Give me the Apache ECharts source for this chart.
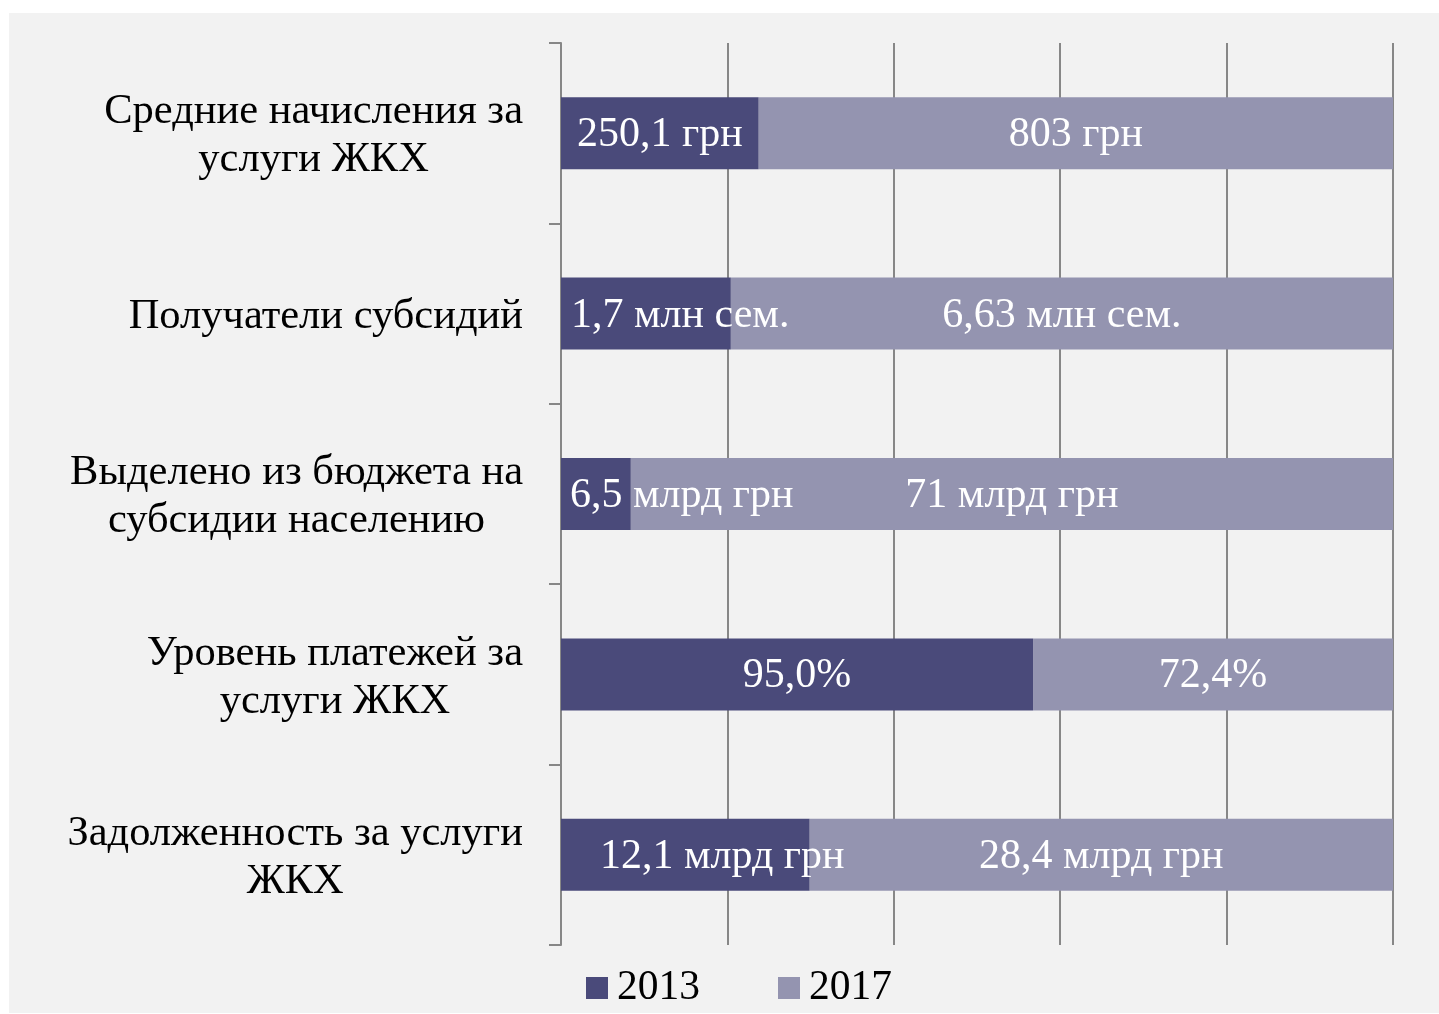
<!DOCTYPE html>
<html>
<head>
<meta charset="utf-8">
<script src="https://cdn.jsdelivr.net/npm/echarts@6/dist/echarts.min.js"></script>
<style>
    html, body { margin: 0; padding: 0; background: #ffffff; }
    #panel { position: absolute; left: 9px; top: 13px; width: 1430px; height: 1000px; background: #f2f2f2; }
    #main { width: 1430px; height: 1000px; }
</style>
</head>
<body>
<div id="panel"><div id="main"></div></div>
<script>
// категории (сверху вниз)
var categories = [
    'Средние начисления за\nуслуги ЖКХ',
    'Получатели субсидий',
    'Выделено из бюджета на\nсубсидии населению',
    'Уровень платежей за\nуслуги ЖКХ',
    'Задолженность за услуги\nЖКХ'
];
var years = ['2013', '2017'];
var values2013 = [250.1, 1.7, 6.5, 95.0, 12.1];
var values2017 = [803, 6.63, 71, 72.4, 28.4];
var labels2013 = ['250,1 грн', '1,7 млн сем.', '6,5 млрд грн', '95,0%', '12,1 млрд грн'];
var labels2017 = ['803 грн', '6,63 млн сем.', '71 млрд грн', '72,4%', '28,4 млрд грн'];
var xTicks = [0, 20, 40, 60, 80, 100];

var serif = '"Liberation Serif", "DejaVu Serif", serif';
var darkColor = '#4a4a7a';
var lightColor = '#9494b0';

// 100% stacked: доля каждого года в сумме
function share(a, b) {
    var out = [];
    for (var i = 0; i < a.length; i++) {
        out.push(a[i] / (a[i] + b[i]) * 100);
    }
    return out;
}
var share2013 = share(values2013, values2017);
var share2017 = share(values2017, values2013);

// подписи 2013, которые в Excel сдвинуты от центра
var leftLabelDist = {1: 10, 2: 9, 4: 39};

function buildData(shares, labels, leftShift) {
    var data = [];
    for (var i = 0; i < shares.length; i++) {
        var item = {value: shares[i], text: labels[i]};
        if (leftShift && leftShift[i] !== undefined) {
            item.label = {position: 'insideLeft', distance: leftShift[i]};
        }
        data.push(item);
    }
    return data;
}

var chart = echarts.init(document.getElementById('main'));

var barLabel = {
    show: true,
    position: 'inside',
    color: '#fff',
    fontFamily: serif,
    fontSize: 42,
    offset: [0, 2],
    formatter: function (p) { return p.data.text; }
};

var option = {
    backgroundColor: 'transparent',
    animation: false,
    grid: {left: 552, right: 46, top: 30, bottom: 68, containLabel: false},
    legend: {
        data: years,
        left: 572,
        top: 949,
        icon: 'rect',
        itemWidth: 22,
        itemHeight: 22,
        itemGap: 78,
        textStyle: {fontFamily: serif, fontSize: 41.5, color: '#000', padding: [0, 0, 0, 4]}
    },
    xAxis: {
        type: 'value',
        min: xTicks[0],
        max: xTicks[xTicks.length - 1],
        interval: 20,
        axisLabel: {show: false},
        axisLine: {show: false},
        axisTick: {show: false},
        splitLine: {show: true, lineStyle: {color: '#878787', width: 2}}
    },
    yAxis: {
        type: 'category',
        inverse: true,
        data: categories,
        axisLine: {show: true, lineStyle: {color: '#878787', width: 2}},
        axisTick: {show: true, length: 12, lineStyle: {color: '#878787', width: 2}},
        axisLabel: {
            margin: 38,
            padding: [6, 0, 0, 0],
            formatter: function (value) {
                return value.split('\n').map(function (l) { return '{c|' + l + '}'; }).join('\n');
            },
            rich: {
                c: {align: 'center', fontFamily: serif, fontSize: 42.5, lineHeight: 48, color: '#000'}
            }
        }
    },
    series: [
        {
            name: years[0],
            type: 'bar',
            stack: 'total',
            z: 3,
            barWidth: 72,
            itemStyle: {color: darkColor},
            label: barLabel,
            data: buildData(share2013, labels2013, leftLabelDist)
        },
        {
            name: years[1],
            type: 'bar',
            stack: 'total',
            z: 2,
            barWidth: 72,
            itemStyle: {color: lightColor},
            label: barLabel,
            data: buildData(share2017, labels2017, null)
        }
    ]
};

chart.setOption(option);
</script>
</body>
</html>
